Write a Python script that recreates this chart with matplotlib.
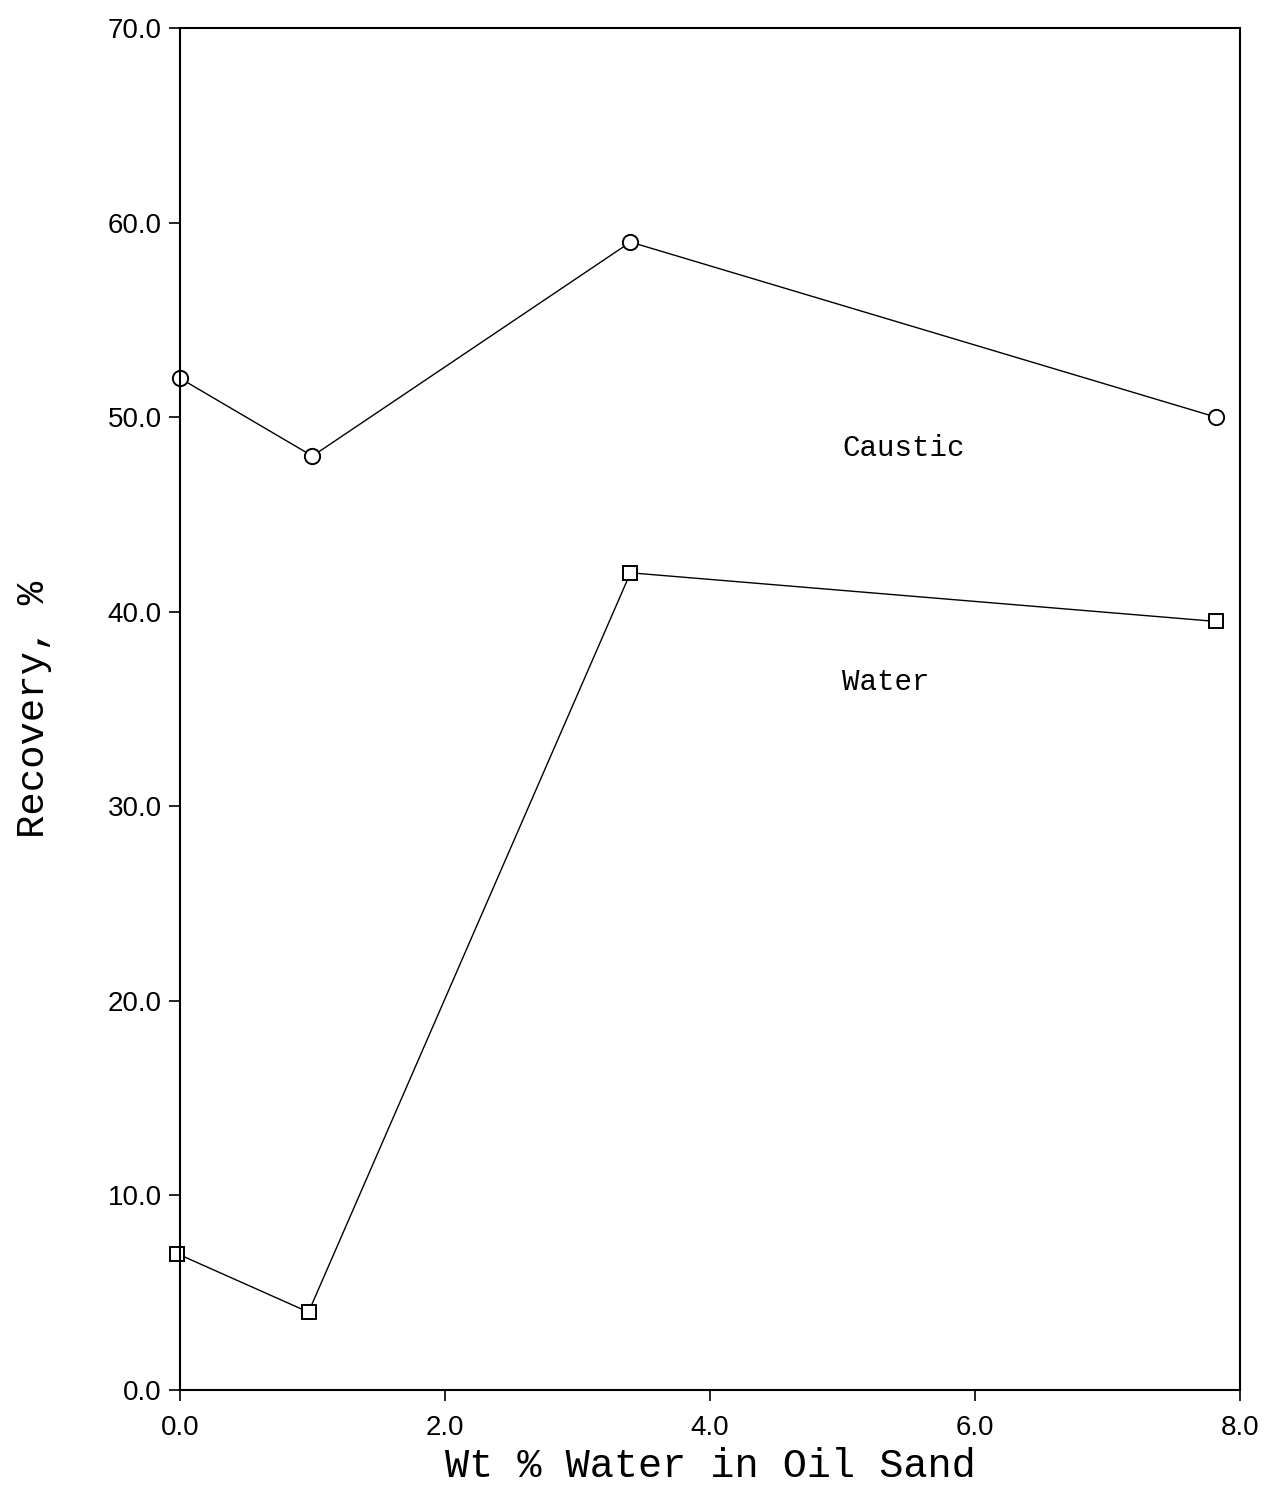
import matplotlib

matplotlib.use("Agg")
import matplotlib.pyplot as plt

# Wt % water in oil sand
caustic_x = [0.0, 1.0, 3.4, 7.82]
caustic_y = [52.0, 48.0, 59.0, 50.0]
water_x = [-0.02, 0.97, 3.4, 7.82]
water_y = [7.0, 4.0, 42.0, 39.5]

x_ticks = [0.0, 2.0, 4.0, 6.0, 8.0]
y_ticks = [0.0, 10.0, 20.0, 30.0, 40.0, 50.0, 60.0, 70.0]

mono = "Liberation Mono"
sans = "Liberation Sans"

fig = plt.figure(figsize=(12.71, 14.92), dpi=100)
ax = fig.add_axes([0.1416, 0.0684, 0.834, 0.9128])

ax.plot(caustic_x, caustic_y, "-o", color="black", lw=1.0, ms=11,
        mfc="white", mec="black", mew=1.4, clip_on=False)
ax.plot(water_x, water_y, "-s", color="black", lw=1.0, ms=10,
        mfc="white", mec="black", mew=1.4, clip_on=False)

ax.text(5.0, 48.4, "Caustic", family=mono, fontsize=21, ha="left", va="center")
ax.text(5.0, 36.4, "Water", family=mono, fontsize=21, ha="left", va="center")

ax.set_xlim(0.0, 8.0)
ax.set_ylim(0.0, 70.0)
ax.set_xticks(x_ticks, [f"{v:.1f}" for v in x_ticks])
ax.set_yticks(y_ticks, [f"{v:.1f}" for v in y_ticks])
ax.tick_params(direction="out", length=8, width=1.2, labelsize=20)
ax.tick_params(axis="x", pad=10)
ax.tick_params(axis="y", pad=5)
for lab in ax.get_xticklabels() + ax.get_yticklabels():
    lab.set_family(sans)
ax.tick_params(top=False, right=False)
for s in ax.spines.values():
    s.set_linewidth(1.5)

ax.set_xlabel("Wt % Water in Oil Sand", family=mono, fontsize=29, labelpad=4)
ax.set_ylabel("Recovery, %", family=mono, fontsize=28, labelpad=40)

fig.savefig("out.png")
plt.close(fig)
